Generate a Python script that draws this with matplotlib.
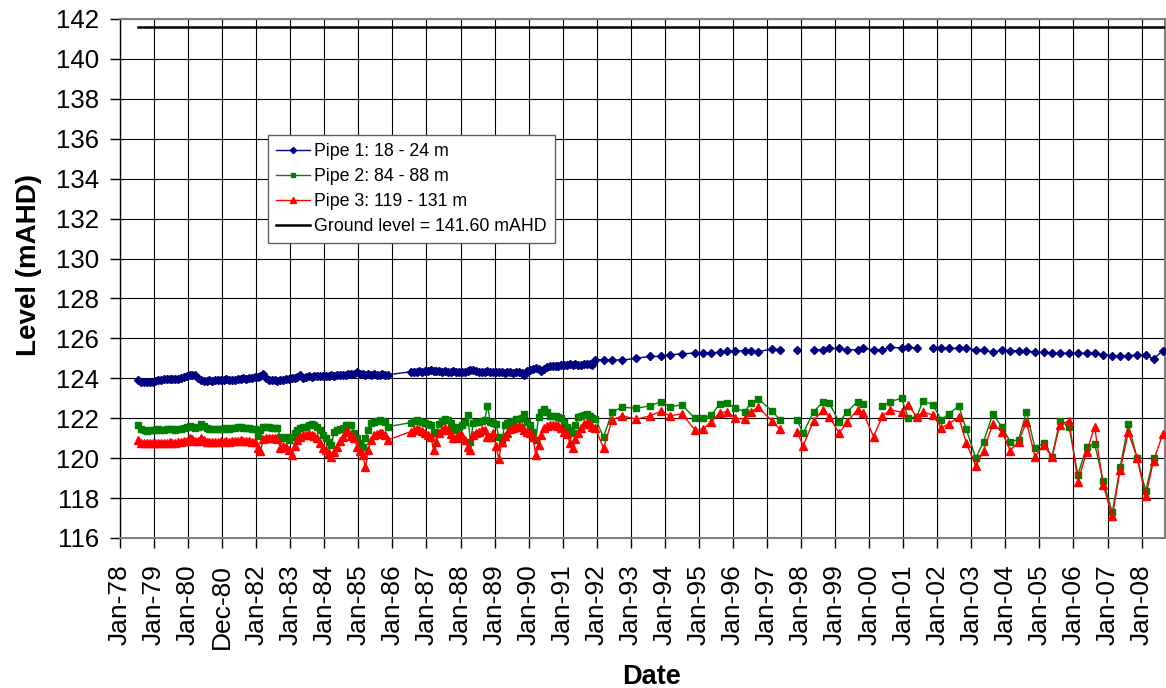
import numpy as np
import matplotlib
matplotlib.use("Agg")
import matplotlib.pyplot as plt

plt.rcParams['font.family'] = ['Liberation Sans', 'DejaVu Sans']

nan = np.nan

# ---------------- data ----------------
tick_labels = ["Jan-78", "Jan-79", "Jan-80", "Dec-80", "Jan-82", "Jan-83", "Jan-84", "Jan-85",
               "Jan-86", "Jan-87", "Jan-88", "Jan-89", "Jan-90", "Jan-91", "Jan-92", "Jan-93",
               "Jan-94", "Jan-95", "Jan-96", "Jan-97", "Jan-98", "Jan-99", "Jan-00", "Jan-01",
               "Jan-02", "Jan-03", "Jan-04", "Jan-05", "Jan-06", "Jan-07", "Jan-08"]

ground_level = 141.60

# Segment A: monthly readings Jul-1978 .. Nov-1985
segA_start = (1978, 7)
p1_A = [123.92, 123.82, 123.8, 123.8, 123.8, 123.82,
        123.85, 123.9, 123.93, 123.95, 123.97, 123.95, 123.97, 123.97, 123.95, 124.0, 124.05, 124.13,
        124.15, 124.17, 124.15, 124.0, 123.9, 123.88, 123.88, 123.9, 123.88, 123.92, 123.93, 123.93,
        123.93, 123.95, 123.92, 123.93, 123.9, 123.95, 123.97, 124.0, 123.98, 124.0, 124.02, 124.05,
        124.05, 124.1, 124.2, 124.0, 123.92, 123.9, 123.92, 123.88, 123.9, 123.93, 123.95, 123.98,
        124.0, 124.02, 124.08, 124.18, 124.02, 124.05, 124.1, 124.08, 124.1, 124.12, 124.1, 124.12,
        124.1, 124.12, 124.15, 124.12, 124.15, 124.18, 124.15, 124.17, 124.2, 124.22, 124.2, 124.3,
        124.22, 124.2, 124.18, 124.2, 124.18, 124.2, 124.17, 124.18, 124.2, 124.17, 124.18]
p2_A = [121.67, 121.45, 121.4, 121.38, 121.4, 121.42,
        121.42, 121.45, 121.43, 121.42, 121.45, 121.47, 121.45, 121.43, 121.45, 121.48, 121.5, 121.55,
        121.6, 121.55, 121.5, 121.55, 121.7, 121.6, 121.5, 121.45, 121.45, 121.47, 121.45, 121.48,
        121.47, 121.5, 121.48, 121.5, 121.52, 121.55, 121.58, 121.52, 121.5, 121.5, 121.48, 121.45,
        121.1, 121.4, 121.58, 121.55, 121.55, 121.52, 121.5, 121.5, 121.08, 121.0, 121.05, 120.9,
        121.08, 121.25, 121.42, 121.5, 121.55, 121.58, 121.65, 121.7, 121.68, 121.58, 121.4, 121.17,
        121.0, 120.8, 120.67, 121.33, 121.42, 121.45, 121.5, 121.67, 121.67, 121.67, 121.25, 121.0,
        120.75, 120.58, 121.0, 121.4, 121.75, 121.8, 121.85, 121.9, 121.85, 121.8, 121.58]
p3_A = [120.92, 120.78, 120.75, 120.75, 120.77, 120.75,
        120.75, 120.77, 120.78, 120.75, 120.77, 120.8, 120.78, 120.77, 120.8, 120.82, 120.85, 120.88,
        121.0, 120.95, 120.85, 120.88, 121.0, 120.9, 120.83, 120.8, 120.82, 120.83, 120.82, 120.85,
        120.83, 120.85, 120.83, 120.85, 120.87, 120.88, 120.9, 120.87, 120.85, 120.85, 120.83, 120.82,
        120.5, 120.38, 120.95, 121.0, 121.02, 121.0, 121.0, 120.95, 120.5, 120.6, 120.55, 120.4,
        120.17, 120.6, 120.9, 121.05, 121.17, 121.17, 121.2, 121.17, 121.1, 121.0, 120.75, 120.5,
        120.4, 120.25, 120.08, 120.3, 120.58, 120.85, 121.08, 121.33, 121.3, 121.1, 121.0, 120.58,
        120.35, 120.17, 119.55, 120.42, 120.9, 121.17, 121.2, 121.25, 121.28, 121.15, 120.92]

# Segment B: monthly readings Jul-1986 .. Dec-1991
segB_start = (1986, 7)
p1_B = [124.33, 124.3, 124.33, 124.35, 124.33, 124.35,
        124.35, 124.43, 124.38, 124.35, 124.35, 124.33, 124.35, 124.33, 124.3, 124.35, 124.33, 124.33,
        124.33, 124.33, 124.38, 124.43, 124.4, 124.35, 124.33, 124.3, 124.33, 124.35, 124.33, 124.32,
        124.3, 124.3, 124.3, 124.28, 124.3, 124.3, 124.28, 124.3, 124.3, 124.28, 124.18, 124.35,
        124.43, 124.45, 124.5, 124.48, 124.35, 124.45, 124.55, 124.63, 124.6, 124.63, 124.6, 124.65,
        124.65, 124.68, 124.72, 124.68, 124.7, 124.68, 124.65, 124.7, 124.72, 124.72, 124.68, 124.93]
p2_B = [121.78, 121.85, 121.92, 121.88, 121.83, 121.75,
        121.7, 121.67, 121.33, 121.25, 121.7, 121.85, 121.95, 121.92, 121.75, 121.58, 121.42, 121.55,
        121.67, 121.8, 122.17, 120.83, 121.75, 121.8, 121.83, 121.87, 121.92, 122.62, 121.83, 121.75,
        121.7, 121.08, 120.75, 121.67, 121.78, 121.83, 121.88, 121.95, 121.97, 122.0, 122.22, 121.83,
        121.67, 121.3, 120.92, 122.08, 122.3, 122.45, 122.33, 122.12, 122.12, 122.1, 122.08, 122.0,
        121.83, 121.58, 121.4, 121.25, 121.67, 122.08, 122.12, 122.17, 122.22, 122.1, 122.0, 121.98]
p3_B = [121.33, 121.4, 121.45, 121.42, 121.38, 121.25,
        121.15, 121.08, 120.42, 120.83, 121.25, 121.42, 121.5, 121.42, 121.2, 121.0, 121.0, 121.17,
        121.1, 120.9, 120.58, 120.42, 121.17, 121.25, 121.33, 121.4, 121.42, 121.08, 121.08, 121.25,
        120.6, 119.95, 120.83, 121.1, 121.25, 121.45, 121.52, 121.58, 121.6, 121.58, 121.42, 121.3,
        121.25, 121.08, 120.17, 120.67, 121.17, 121.5, 121.6, 121.67, 121.68, 121.67, 121.6, 121.5,
        121.33, 121.2, 120.75, 120.5, 120.95, 121.25, 121.5, 121.7, 121.75, 121.7, 121.58, 121.5]

# Segment C: quarterly readings 1992 .. 2008 (decimal years)
dates_C = [1992.2, 1992.45, 1992.75,
           1993.16, 1993.56, 1993.9,
           1994.14, 1994.5, 1994.88,
           1995.12, 1995.37, 1995.61, 1995.83,
           1996.07, 1996.35, 1996.53, 1996.74,
           1997.14, 1997.38, 1997.62, 1997.88,
           1998.06, 1998.37, 1998.65, 1998.83,
           1999.12, 1999.35, 1999.66, 1999.82,
           2000.13, 2000.39, 2000.62, 2000.95,
           2001.15, 2001.41, 2001.57, 2001.87,
           2002.12, 2002.33, 2002.63, 2002.85,
           2003.13, 2003.36, 2003.63, 2003.9,
           2004.14, 2004.39, 2004.62, 2004.87,
           2005.12, 2005.37, 2005.6, 2005.87,
           2006.13, 2006.39, 2006.62, 2006.87,
           2007.14, 2007.37, 2007.61, 2007.87,
           2008.12, 2008.35, 2008.62]
p1_C = [124.92, 124.92, 124.92,
        125.0, 125.1, 125.1,
        125.18, 125.22, 125.27,
        125.27, 125.27, 125.3, 125.38,
        125.38, 125.38, 125.38, 125.33,
        125.47, 125.43, nan, 125.43,
        nan, 125.43, 125.43, 125.5,
        125.5, 125.43, 125.43, 125.5,
        125.43, 125.43, 125.55, 125.52,
        125.55, 125.5, nan, 125.5,
        125.5, 125.5, 125.5, 125.5,
        125.43, 125.43, 125.3, 125.43,
        125.38, 125.38, 125.38, 125.3,
        125.3, 125.25, 125.25, 125.25,
        125.25, 125.25, 125.25, 125.18,
        125.13, 125.1, 125.13, 125.17,
        125.17, 124.97, 125.38]
p2_C = [121.05, 122.33, 122.55,
        122.5, 122.62, 122.83,
        122.58, 122.67, 122.0,
        122.0, 122.17, 122.72, 122.78,
        122.5, 122.33, 122.78, 122.97,
        122.38, 121.92, nan, 121.92,
        121.25, 122.33, 122.83, 122.75,
        121.8, 122.33, 122.83, 122.72,
        nan, 122.62, 122.83, 123.0,
        122.0, 122.08, 122.88, 122.67,
        121.92, 122.2, 122.62, 121.47,
        120.0, 120.83, 122.2, 121.58,
        120.83, 120.92, 122.33, 120.5,
        120.75, 120.08, 121.87, 121.58,
        119.17, 120.58, 120.72, 118.88,
        117.28, 119.55, 121.7, 120.0,
        118.37, 120.0, nan]
p3_C = [120.5, 121.92, 122.12,
        121.95, 122.12, 122.35,
        122.12, 122.22, 121.42,
        121.45, 121.83, 122.28, 122.33,
        122.0, 121.95, 122.33, 122.55,
        121.88, 121.45, nan, 121.33,
        120.62, 121.88, 122.42, 122.08,
        121.25, 121.83, 122.42, 122.28,
        121.08, 122.12, 122.42, 122.3,
        122.65, 122.05, 122.3, 122.17,
        121.5, 121.72, 122.05, 120.78,
        119.62, 120.38, 121.72, 121.33,
        120.38, 120.83, 121.83, 120.05,
        120.67, 120.05, 121.67, 121.88,
        118.83, 120.33, 121.58, 118.67,
        117.08, 119.42, 121.3, 120.0,
        118.08, 119.87, 121.2]


def monthly_dates(start, n):
    y, m = start
    out = []
    for i in range(n):
        mm = m - 1 + i
        out.append(y + mm // 12 + ((mm % 12) + 0.5) / 12.0)
    return out


dates = (monthly_dates(segA_start, len(p1_A)) + monthly_dates(segB_start, len(p1_B)) + dates_C)
pipe1 = np.array(p1_A + p1_B + p1_C, dtype=float)
pipe2 = np.array(p2_A + p2_B + p2_C, dtype=float)
pipe3 = np.array(p3_A + p3_B + p3_C, dtype=float)
dates = np.array(dates)

# ---------------- figure ----------------
W, H = 1166, 688
fig = plt.figure(figsize=(W / 100, H / 100), dpi=100)
ax = fig.add_axes([120 / W, 1 - 538 / H, 1045 / W, 519 / H])

x_left = 1978.0
x_right = 1978.0 + (1165 - 120.7) / 34.03

ax.set_xlim(x_left, x_right)
ax.set_ylim(116, 142)

ax.grid(True, color='black', linewidth=0.8)
ax.set_axisbelow(True)

ax.plot(dates, pipe1, color='#000080', marker='D', markersize=4.2, linewidth=1.0,
        label='Pipe 1: 18 - 24 m', zorder=3)
ax.plot(dates, pipe2, color='#008000', marker='s', markersize=4.8, linewidth=1.0,
        label='Pipe 2: 84 - 88 m', zorder=4)
ax.plot(dates, pipe3, color='#FF0000', marker='^', markersize=5.8, linewidth=1.0,
        label='Pipe 3: 119 - 131 m', zorder=5)
ax.plot([dates[0], x_right], [ground_level, ground_level], color='black', linewidth=1.8,
        label='Ground level = 141.60 mAHD', zorder=3)

ax.set_xticks(np.arange(1978, 1978 + len(tick_labels)))
ax.set_xticklabels(tick_labels, rotation=90, fontsize=19)
ax.set_yticks(np.arange(116, 143, 2))
ax.set_yticklabels([str(v) for v in range(116, 143, 2)], fontsize=18.5)
ax.tick_params(axis='x', direction='out', length=7, width=1, pad=12, colors='black')
ax.tick_params(axis='y', direction='out', length=7, width=1, pad=8, colors='black')

for s in ['top', 'right', 'bottom']:
    ax.spines[s].set_color('#808080')
    ax.spines[s].set_linewidth(1.5)
ax.spines['left'].set_color('black')
ax.spines['left'].set_linewidth(1.0)

ax.set_ylabel('Level (mAHD)', fontsize=20, fontweight='bold')
ax.yaxis.set_label_coords(-0.075, 0.526)
ax.set_xlabel('Date', fontsize=19.5, fontweight='bold')
ax.xaxis.set_label_coords(0.509, -0.243)

leg = ax.legend(loc='upper left', bbox_to_anchor=((268 - 120) / 1045, (538 - 135) / 519),
                borderaxespad=0, fontsize=12.8, frameon=True, fancybox=False,
                handlelength=1.9, borderpad=0.45, labelspacing=0.45, handletextpad=0.25,
                markerscale=0.75)
leg.get_frame().set_edgecolor('#606060')
leg.get_frame().set_linewidth(1.0)
leg.get_frame().set_alpha(1.0)

fig.savefig('out.png', dpi=100, facecolor='white')
